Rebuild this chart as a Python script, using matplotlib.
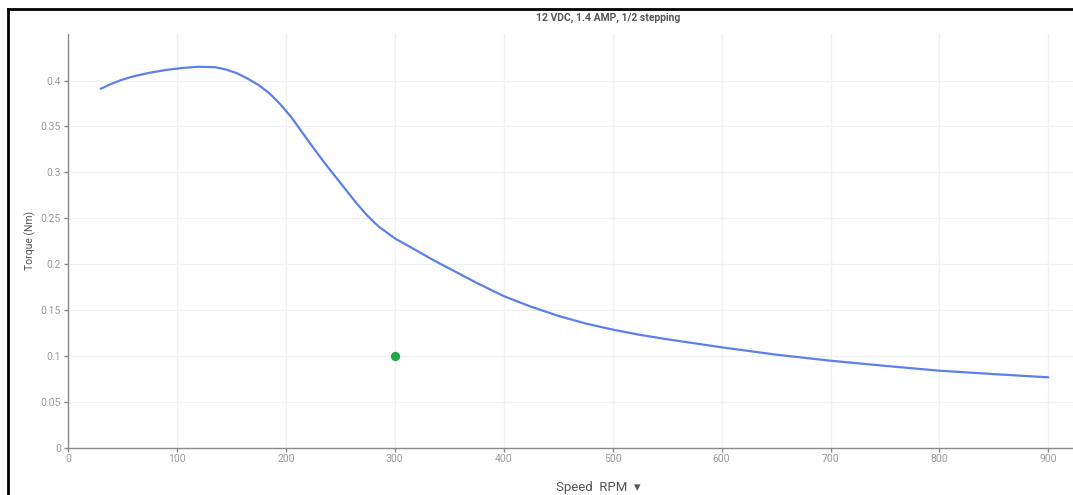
import matplotlib
matplotlib.use("Agg")
import matplotlib.pyplot as plt
from matplotlib.lines import Line2D
from matplotlib.ticker import FuncFormatter

plt.rcParams['font.family'] = ['Roboto', 'DejaVu Sans']

# torque curve
speed = [30, 40, 50, 60, 75, 90, 105, 120, 135, 145, 155, 165, 175, 185,
         195, 205, 215, 225, 235, 245, 255, 265, 275, 285, 300, 315, 335,
         355, 375, 400, 425, 450, 475, 500, 525, 550, 600, 650, 700, 750,
         800, 850, 900]
torque = [0.391, 0.3965, 0.401, 0.4045, 0.4085, 0.4115, 0.4137, 0.415, 0.4145,
          0.412, 0.408, 0.402, 0.395, 0.386, 0.374, 0.360, 0.3435, 0.327,
          0.311, 0.296, 0.281, 0.266, 0.2525, 0.241, 0.228, 0.218, 0.2045,
          0.192, 0.1795, 0.165, 0.1535, 0.1435, 0.1352, 0.1285, 0.1228,
          0.118, 0.1092, 0.1012, 0.0946, 0.089, 0.0837, 0.080, 0.0765]

# operating point
op_speed = [300]
op_torque = [0.1]

xticks = [0, 100, 200, 300, 400, 500, 600, 700, 800, 900]
yticks = [0, 0.05, 0.1, 0.15, 0.2, 0.25, 0.3, 0.35, 0.4]

fig = plt.figure(figsize=(10.73, 4.95), dpi=100)
ax = fig.add_axes([68/1073, 1-447.5/495, 1-68/1073, (447.5-34)/495])

ax.plot(speed, torque, color='#5b80ee', lw=1.6, solid_capstyle='round',
        solid_joinstyle='round', zorder=3)
ax.scatter(op_speed, op_torque, s=45, color='#22a84a', zorder=4, linewidths=0)

ax.set_xlim(0, 922.6)
ax.set_ylim(0, 0.4507)
ax.set_xticks(xticks)
ax.set_yticks(yticks)
ax.yaxis.set_major_formatter(FuncFormatter(lambda v, p: '%g' % v))
ax.grid(True, color='#f0f0f0', lw=1, zorder=0)
ax.set_axisbelow(True)

for s in ['top', 'right']:
    ax.spines[s].set_visible(False)
for s in ['left', 'bottom']:
    ax.spines[s].set_color('#8a8a8a')
    ax.spines[s].set_linewidth(1)
ax.tick_params(colors='#8a8a8a', labelcolor='#9a9a9a', labelsize=7.5, length=3, width=1, pad=2)

ax.set_ylabel('Torque (Nm)', color='#555555', fontsize=7.5, va='center')
ax.set_xlabel('Speed  RPM  \u25BE', color='#555555', fontsize=9.5, va='center')
ax.xaxis.set_label_coords((598-68)/(1073-68), -(487-447.5)/(447.5-34))
ax.yaxis.set_label_coords(-(68-30)/(1073-68), 0.5)

fig.text(608/1073, 1-18/495, '12 VDC, 1.4 AMP, 1/2 stepping', ha='center', va='center',
         fontsize=7.5, color='#555555', fontweight='bold')

# frame lines of the screenshot
fig.add_artist(Line2D([8/1073, 1], [1-8.5/495, 1-8.5/495], color='black', lw=2))
fig.add_artist(Line2D([8/1073, 8/1073], [0, 1-8.5/495], color='black', lw=2))

fig.savefig('out.png', dpi=100)
